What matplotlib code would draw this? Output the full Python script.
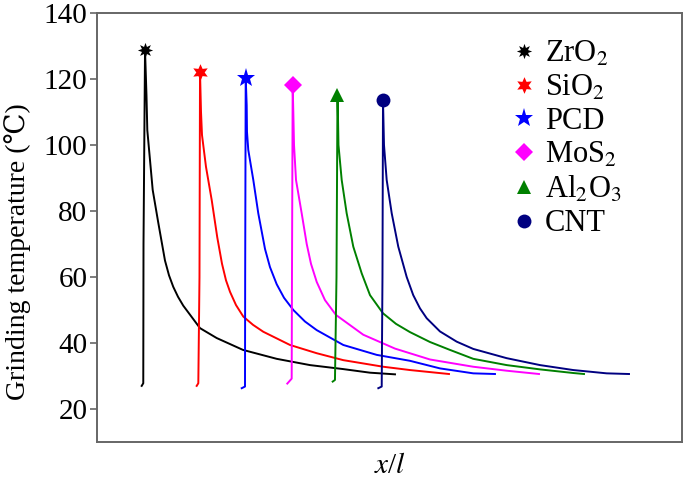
import numpy as np
import matplotlib
matplotlib.use("Agg")
import matplotlib.pyplot as plt

plt.rcParams['font.family'] = ['Liberation Serif', 'DejaVu Serif']
plt.rcParams['mathtext.fontset'] = 'stix'

# x/l positions and grinding temperature
zro2_x = [0.0764, 0.0791, 0.0795, 0.0821, 0.0846, 0.0860, 0.0952, 0.1048, 0.1162, 0.1231,
          0.1304, 0.1385, 0.1475, 0.1761, 0.2046, 0.2496, 0.3072, 0.3641, 0.4205, 0.4667, 0.5094]
zro2_t = [27.0, 27.8, 70.0, 128.8, 115.0, 104.5, 86.4, 76.4, 65.0, 60.5,
          57.0, 54.0, 51.3, 44.5, 41.5, 37.9, 35.2, 33.3, 32.1, 31.0, 30.5]

sio2_x = [0.1704, 0.1732, 0.1752, 0.1761, 0.1778, 0.1795, 0.1863, 0.1961, 0.2056, 0.2137,
          0.2205, 0.2274, 0.2376, 0.2501, 0.2667, 0.2843, 0.3299, 0.3756, 0.4210, 0.4894,
          0.5350, 0.6017]
sio2_t = [27.0, 27.8, 60.0, 122.2, 110.0, 103.0, 93.4, 83.3, 72.0, 64.0,
          59.0, 55.5, 51.5, 48.0, 45.5, 43.4, 39.4, 36.9, 34.8, 32.8,
          31.8, 30.6]

pcd_x = [0.2474, 0.2530, 0.2533, 0.2542, 0.2559, 0.2564, 0.2586, 0.2672, 0.2757, 0.2872,
         0.2957, 0.3072, 0.3197, 0.3356, 0.3556, 0.3756, 0.4210, 0.4781, 0.5350, 0.5863,
         0.6432, 0.6803]
pcd_t = [26.3, 26.8, 60.0, 120.4, 112.0, 104.0, 98.5, 89.4, 79.3, 68.5,
         63.0, 57.8, 53.7, 50.0, 46.5, 43.9, 39.4, 36.4, 34.6, 32.3,
         30.8, 30.6]

mos2_x = [0.3253, 0.3328, 0.3333, 0.3345, 0.3356, 0.3368, 0.3402, 0.3499, 0.3585, 0.3658,
          0.3756, 0.3897, 0.4085, 0.4552, 0.5094, 0.5692, 0.6432, 0.7003, 0.7556]
mos2_t = [27.7, 29.2, 60.0, 118.2, 110.0, 100.0, 89.4, 79.3, 70.0, 64.0,
          58.5, 53.0, 48.5, 42.5, 38.3, 35.0, 32.8, 31.6, 30.6]

al2o3_x = [0.4029, 0.4068, 0.4094, 0.4111, 0.4120, 0.4128, 0.4183, 0.4268, 0.4381, 0.4525,
           0.4667, 0.4889, 0.5111, 0.5350, 0.5692, 0.6034, 0.6432, 0.7003, 0.7573, 0.8142,
           0.8325]
al2o3_t = [28.3, 28.8, 60.0, 115.2, 108.0, 100.0, 89.4, 79.3, 69.2, 61.1,
           54.5, 49.0, 45.8, 43.3, 40.3, 37.9, 35.2, 33.3, 32.0, 30.9,
           30.6]

cnt_x = [0.4809, 0.4867, 0.4880, 0.4889, 0.4906, 0.4952, 0.5038, 0.5150, 0.5294, 0.5406,
         0.5521, 0.5636, 0.5863, 0.6149, 0.6432, 0.7003, 0.7573, 0.8142, 0.8713, 0.9094]
cnt_t = [26.3, 26.8, 60.0, 113.6, 100.0, 89.4, 79.3, 69.2, 60.0, 54.5,
         50.5, 47.5, 43.5, 40.4, 38.2, 35.4, 33.3, 31.8, 30.8, 30.6]

labels = ['ZrO$_2$', 'SiO$_2$', 'PCD', 'MoS$_2$', 'Al$_2$O$_3$', 'CNT']
colors = ['black', 'red', 'blue', '#ff00ff', 'green', '#000080']
markers = [(8, 1, 0), (6, 1, 0), '*', 'D', '^', 'o']
msizes = [11, 12, 14, 9, 10, 10]

xs = [zro2_x, sio2_x, pcd_x, mos2_x, al2o3_x, cnt_x]
ts = [zro2_t, sio2_t, pcd_t, mos2_t, al2o3_t, cnt_t]

fig = plt.figure(figsize=(6.85, 4.8), dpi=100)
ax = fig.add_axes([0.1416, 0.0792, 0.854, 0.8937])

for x, t, c, m, ms, lab in zip(xs, ts, colors, markers, msizes, labels):
    ax.plot(x, t, color=c, lw=1.4)
    ipk = int(np.argmax(t))
    ax.plot([x[ipk]], [t[ipk]], linestyle='none', marker=m, ms=ms, color=c,
            markeredgewidth=0, label=lab)

ax.set_xlim(0, 1)
ax.set_ylim(10, 140)
ax.set_yticks([20, 40, 60, 80, 100, 120, 140])
ax.set_xticks([])
ax.tick_params(axis='y', labelsize=21, length=5, width=1.2, color='#666666', direction='out', pad=2)
for s in ax.spines.values():
    s.set_color('#666666')
    s.set_linewidth(1.4)

ax.set_ylabel('Grinding temperature (℃)', fontsize=20)
ax.yaxis.set_label_coords(-0.113, 0.443)
ax.set_xlabel('$x$/$l$', fontsize=21, labelpad=8)

ax.legend(loc='upper left', bbox_to_anchor=(0.667, 0.995), frameon=False, fontsize=22,
          handlelength=0.8, handletextpad=0.3, labelspacing=0.15, borderpad=0.3)

plt.savefig('out.png', dpi=100)
